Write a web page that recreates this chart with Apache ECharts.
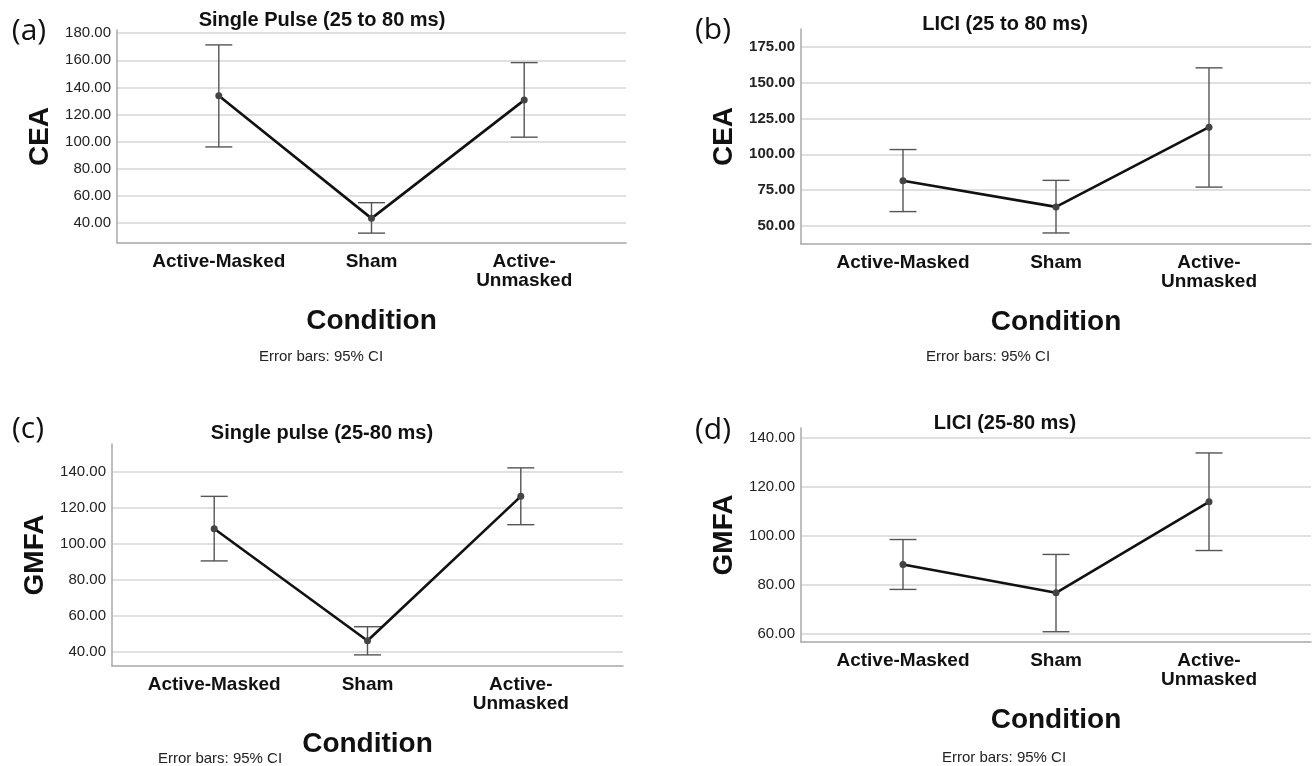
<!DOCTYPE html>
<html><head><meta charset="utf-8">
<script src="https://cdn.jsdelivr.net/npm/echarts@6/dist/echarts.min.js"></script>
<style>html,body{margin:0;padding:0;background:#fff}#c{width:1314px;height:766px}</style>
</head><body><div id="c"></div>
<script>
// ---------- data ----------
const categories = ['Active-Masked', 'Sham', 'Active-\nUnmasked'];
const catPos = [1, 2, 3];

// (a) Single Pulse CEA
const ceaSingleMean = [133.8, 43.2, 130.6];
const ceaSingleLow  = [96.0, 32.3, 103.2];
const ceaSingleHigh = [171.4, 54.8, 158.3];
const ceaSingleTicks = [40, 60, 80, 100, 120, 140, 160, 180];

// (b) LICI CEA
const ceaLiciMean = [81.5, 63.3, 118.9];
const ceaLiciLow  = [60.0, 45.1, 77.1];
const ceaLiciHigh = [103.3, 81.8, 160.3];
const ceaLiciTicks = [50, 75, 100, 125, 150, 175];

// (c) Single pulse GMFA
const gmfaSingleMean = [108.4, 46.0, 126.5];
const gmfaSingleLow  = [90.5, 38.1, 110.7];
const gmfaSingleHigh = [126.5, 53.8, 142.4];
const gmfaSingleTicks = [40, 60, 80, 100, 120, 140];

// (d) LICI GMFA
const gmfaLiciMean = [88.3, 76.7, 113.9];
const gmfaLiciLow  = [78.1, 60.8, 94.0];
const gmfaLiciHigh = [98.5, 92.4, 133.9];
const gmfaLiciTicks = [60, 80, 100, 120, 140];

// ---------- layout ----------
const FONT = '"Liberation Sans", Arial, sans-serif';
const panels = [
  {letter:'(a)', title:'Single Pulse (25 to 80 ms)', yName:'CEA', mean:ceaSingleMean, low:ceaSingleLow, high:ceaSingleHigh, ticks:ceaSingleTicks,
   grid:{left:117, top:30, width:509, height:213}, yMin:25, yMax:182.4, boldTicks:false,
   letterPos:[29,31], titlePos:[322,20], ebPos:[321,357]},
  {letter:'(b)', title:'LICI (25 to 80 ms)', yName:'CEA', mean:ceaLiciMean, low:ceaLiciLow, high:ceaLiciHigh, ticks:ceaLiciTicks,
   grid:{left:801, top:29, width:510, height:215}, yMin:37.4, yMax:187.4, boldTicks:true,
   letterPos:[713,30], titlePos:[1005,24], ebPos:[988,357]},
  {letter:'(c)', title:'Single pulse (25-80 ms)', yName:'GMFA', mean:gmfaSingleMean, low:gmfaSingleLow, high:gmfaSingleHigh, ticks:gmfaSingleTicks,
   grid:{left:112, top:444, width:511, height:222}, yMin:31.9, yMax:155.7, boldTicks:false,
   letterPos:[28,429], titlePos:[322,433], ebPos:[220,759]},
  {letter:'(d)', title:'LICI (25-80 ms)', yName:'GMFA', mean:gmfaLiciMean, low:gmfaLiciLow, high:gmfaLiciHigh, ticks:gmfaLiciTicks,
   grid:{left:801, top:428, width:510, height:214}, yMin:56.6, yMax:144.1, boldTicks:false,
   letterPos:[713,430], titlePos:[1005,423], ebPos:[1004,758]}
];

const grids = [], xAxes = [], yAxes = [], series = [], graphics = [];

panels.forEach((p, i) => {
  grids.push(Object.assign({containLabel:false}, p.grid));
  xAxes.push({
    type:'value', gridIndex:i, min:1/3, max:11/3,
    name:'Condition', nameLocation:'middle', nameGap:64,
    nameTextStyle:{fontFamily:FONT, fontWeight:'bold', fontSize:28, color:'#111'},
    axisLine:{show:true, onZero:false, lineStyle:{color:'#a8a8a8', width:1.5}},
    axisTick:{show:false},
    splitLine:{show:false},
    axisLabel:{
      customValues: catPos,
      margin:9, fontFamily:FONT, fontWeight:'bold', fontSize:19, lineHeight:19, color:'#111',
      formatter: v => { const k = catPos.indexOf(Math.round(v)); return k >= 0 ? categories[k] : ''; }
    }
  });
  const step = p.ticks[1] - p.ticks[0];
  yAxes.push({
    type:'value', gridIndex:i, min:p.yMin, max:p.yMax,
    minInterval:step, maxInterval:step, splitNumber:p.ticks.length,
    name:p.yName, nameLocation:'middle', nameGap:63, nameRotate:90,
    nameTextStyle:{fontFamily:FONT, fontWeight:'bold', fontSize:28, color:'#111'},
    axisLine:{show:true, lineStyle:{color:'#a8a8a8', width:1.5}},
    axisTick:{show:false},
    splitLine:{show:true, showMinLine:false, showMaxLine:false, lineStyle:{color:'#d6d6d6', width:1.5}},
    axisLabel:{
      showMinLabel:false, showMaxLabel:false, margin:6,
      fontFamily:FONT, fontSize:15, fontWeight:p.boldTicks ? 'bold' : 'normal', color:'#222',
      formatter: v => p.ticks.includes(Math.round(v*1000)/1000) ? v.toFixed(2) : ''
    }
  });
  // error bars
  series.push({
    type:'custom', xAxisIndex:i, yAxisIndex:i, z:2,
    data: catPos.map((x, k) => [x, p.low[k], p.high[k]]),
    encode:{x:0, y:[1,2]},
    renderItem:(params, api) => {
      const x = api.value(0);
      const lo = api.coord([x, api.value(1)]);
      const hi = api.coord([x, api.value(2)]);
      const hw = 13.5;
      const st = {stroke:'#555', lineWidth:1.4};
      return {type:'group', children:[
        {type:'line', shape:{x1:lo[0], y1:lo[1], x2:hi[0], y2:hi[1]}, style:st},
        {type:'line', shape:{x1:lo[0]-hw, y1:lo[1], x2:lo[0]+hw, y2:lo[1]}, style:st},
        {type:'line', shape:{x1:hi[0]-hw, y1:hi[1], x2:hi[0]+hw, y2:hi[1]}, style:st}
      ]};
    }
  });
  // mean line
  series.push({
    type:'line', xAxisIndex:i, yAxisIndex:i, z:3,
    data: catPos.map((x, k) => [x, p.mean[k]]),
    symbol:'circle', symbolSize:7,
    itemStyle:{color:'#444'},
    lineStyle:{color:'#111', width:2.6},
    animation:false
  });
  graphics.push(
    {type:'text', style:{x:p.letterPos[0], y:p.letterPos[1], text:p.letter, align:'center', verticalAlign:'middle',
      font:'normal 30px "Open Sans", "Noto Sans", sans-serif', fill:'#111'}},
    {type:'text', style:{x:p.titlePos[0], y:p.titlePos[1], text:p.title, align:'center', verticalAlign:'middle',
      font:'bold 20px ' + FONT, fill:'#111'}},
    {type:'text', style:{x:p.ebPos[0], y:p.ebPos[1], text:'Error bars: 95% CI', align:'center', verticalAlign:'middle',
      font:'normal 15px ' + FONT, fill:'#222'}}
  );
});

const chart = echarts.init(document.getElementById('c'), null, {renderer:'canvas'});
chart.setOption({
  backgroundColor:'#fff',
  animation:false,
  grid:grids, xAxis:xAxes, yAxis:yAxes, series:series, graphic:graphics
});
</script>
</body></html>
